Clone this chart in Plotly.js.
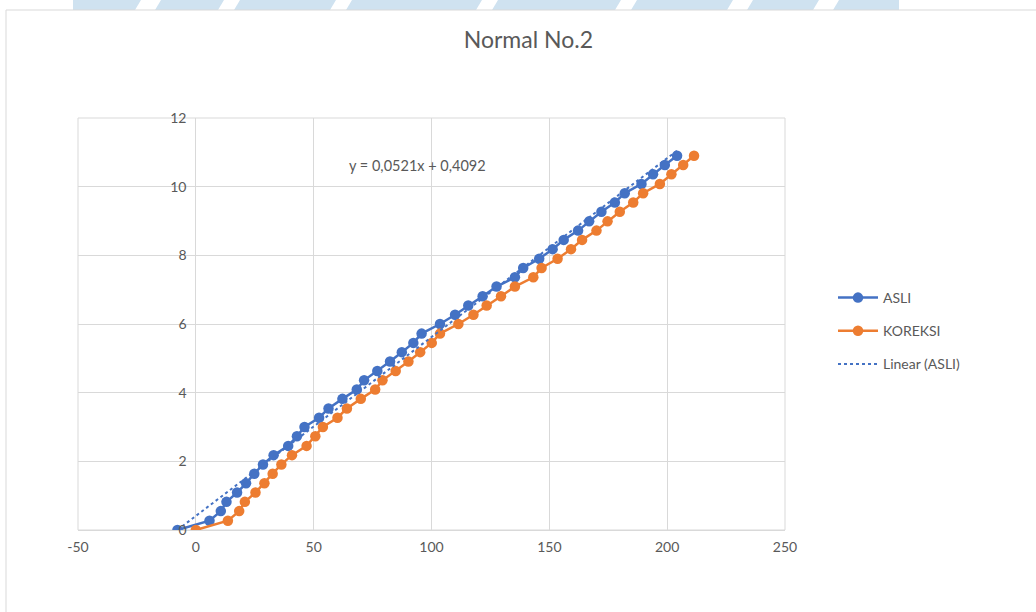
<!DOCTYPE html>
<html>
<head>
<meta charset="utf-8">
<script src="https://cdn.plot.ly/plotly-3.0.1.min.js"></script>
<style>
html,body{margin:0;padding:0;background:#fff;}
#chart{width:1036px;height:612px;}
</style>
</head>
<body>
<div id="chart"></div>
<script>
// ---- data ----
const asliX = [-7.8, 5.8, 10.6, 13.0, 17.5, 21.3, 24.8, 28.5, 33.0, 39.2, 42.9, 46.1, 52.3, 56.3, 62.2,
  68.3, 71.4, 77.0, 82.4, 87.4, 92.3, 95.8, 103.6, 110.0, 115.6, 121.7, 127.6, 135.4, 138.9, 145.7,
  151.4, 156.1, 162.2, 166.9, 172.1, 177.8, 182.0, 189.1, 194.0, 199.0, 204.2];
const koreksiX = [0, 13.6, 18.4, 20.8, 25.3, 29.1, 32.6, 36.3, 40.8, 47.0, 50.7, 53.9, 60.1, 64.1, 70.0,
  76.1, 79.2, 84.8, 90.2, 95.2, 100.1, 103.6, 111.4, 117.8, 123.4, 129.5, 135.4, 143.2, 146.7, 153.5,
  159.2, 163.9, 170.0, 174.7, 179.9, 185.6, 189.8, 196.9, 201.8, 206.8, 211.4];
const yVals = [0, 0.27, 0.55, 0.82, 1.09, 1.36, 1.64, 1.91, 2.18, 2.45, 2.73, 3.00, 3.27, 3.54, 3.82,
  4.09, 4.36, 4.63, 4.91, 5.18, 5.45, 5.72, 6.00, 6.27, 6.54, 6.81, 7.09, 7.36, 7.63, 7.90,
  8.18, 8.45, 8.72, 8.99, 9.27, 9.54, 9.81, 10.08, 10.36, 10.63, 10.90];
const trendSlope = 0.0521;
const trendIntercept = 0.4092;
const trendLabel = "y = 0,0521x + 0,4092";
const seriesNames = ["ASLI", "KOREKSI", "Linear (ASLI)"];
const xTicks = [-50, 0, 50, 100, 150, 200, 250];
const yTicks = [0, 2, 4, 6, 8, 10, 12];
const chartTitle = "Normal No.2";

// ---- styling helpers ----
const FONT = 'Lato, "Noto Sans", "Liberation Sans", sans-serif';
const GREY = '#595959';
const GRID = '#d9d9d9';
const BLUE = '#4472C4';
const ORANGE = '#ED7D31';

// pixel helpers for decorative shapes (plot area 78..785 x 118..530)
const L = 78, R = 785, T = 118, B = 530;
const px = v => (v - L) / (R - L);
const py = v => (B - v) / (B - T);

const trendXs = [Math.min(...asliX), Math.max(...asliX)];
const trendYs = trendXs.map(x => trendSlope * x + trendIntercept);

const traces = [
  {x: asliX, y: yVals, name: seriesNames[0], type: 'scatter', mode: 'lines+markers',
   line: {color: BLUE, width: 2.5}, marker: {color: BLUE, size: 10.5}, legendgroup: 'a'},
  {x: koreksiX, y: yVals, name: seriesNames[1], type: 'scatter', mode: 'lines+markers',
   line: {color: ORANGE, width: 2.5}, marker: {color: ORANGE, size: 10.5}, legendgroup: 'b'},
  {x: trendXs, y: trendYs, name: seriesNames[2], type: 'scatter', mode: 'lines',
   line: {color: BLUE, width: 2, dash: 'dot'}, legendgroup: 'c'}
];

// watermark band at top
const gaps = [[135,155],[218,234],[330,346],[476,492],[615,631],[727,747],[813,833]];
const shapes = [
  {type: 'rect', xref: 'paper', yref: 'paper', x0: px(73), x1: px(899), y0: py(10), y1: py(0),
   fillcolor: '#cfe2f0', line: {width: 0}, layer: 'below'}
];
gaps.forEach(g => {
  shapes.push({type: 'path', xref: 'paper', yref: 'paper',
    path: `M ${px(g[0])} ${py(10)} L ${px(g[0]+6)} ${py(0)} L ${px(g[1]+6)} ${py(0)} L ${px(g[1])} ${py(10)} Z`,
    fillcolor: '#ffffff', line: {width: 0}, layer: 'below'});
});
// chart frame
shapes.push({type: 'line', xref: 'paper', yref: 'paper', x0: px(6), x1: px(1036), y0: py(10), y1: py(10),
  line: {color: GRID, width: 1}});
shapes.push({type: 'line', xref: 'paper', yref: 'paper', x0: px(6), x1: px(6), y0: py(10), y1: py(612),
  line: {color: GRID, width: 1}});
// plot area border (gridlines at edges)
shapes.push({type: 'rect', xref: 'paper', yref: 'paper', x0: 0, x1: 1, y0: 0, y1: 1,
  line: {color: GRID, width: 1}, layer: 'below'});

const layout = {
  width: 1036, height: 612,
  margin: {l: L, r: 1036 - R, t: T, b: 612 - B, pad: 0},
  paper_bgcolor: '#ffffff', plot_bgcolor: '#ffffff',
  font: {family: FONT, color: GREY, size: 14},
  title: {text: chartTitle, x: 0.51, xref: 'container', y: 1 - 40/612, yref: 'container',
          xanchor: 'center', yanchor: 'middle', font: {family: FONT, size: 23, color: GREY}},
  xaxis: {range: [-50, 250], tickvals: xTicks, ticktext: xTicks.map(String),
          showgrid: true, gridcolor: GRID, gridwidth: 1, zeroline: false,
          showline: true, linecolor: GRID, linewidth: 1, ticks: '', ticklabelstandoff: 4,
          tickfont: {family: FONT, size: 14, color: GREY}, fixedrange: true},
  yaxis: {range: [0, 12], tickvals: yTicks, ticktext: yTicks.map(String),
          showgrid: true, gridcolor: GRID, gridwidth: 1, zeroline: false,
          showline: false, ticks: '', anchor: 'free', position: (195.5 - L) / (R - L),
          ticklabelstandoff: 9,
          tickfont: {family: FONT, size: 14, color: GREY}, fixedrange: true},
  showlegend: true,
  legend: {x: px(833), y: py(282), xanchor: 'left', yanchor: 'top',
           font: {family: FONT, size: 14, color: GREY}, tracegroupgap: 12,
           bgcolor: 'rgba(0,0,0,0)', itemwidth: 40},
  annotations: [
    {x: 93.9, y: 10.63, xref: 'x', yref: 'y', text: trendLabel, showarrow: false,
     font: {family: FONT, size: 14.5, color: GREY}}
  ],
  shapes: shapes
};

Plotly.newPlot('chart', traces, layout, {displayModeBar: false, staticPlot: true});
</script>
</body>
</html>
